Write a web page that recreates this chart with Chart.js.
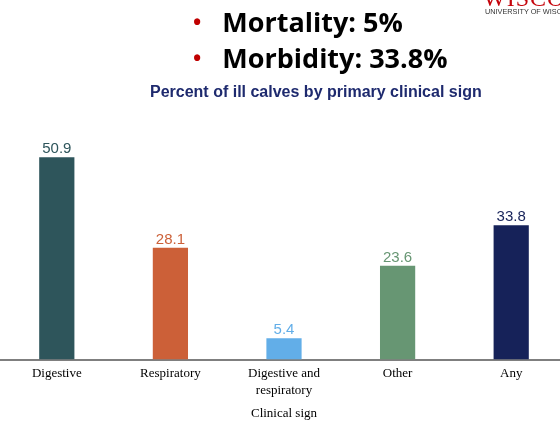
<!DOCTYPE html>
<html><head><meta charset="utf-8">
<script src="https://cdn.jsdelivr.net/npm/chart.js@4/dist/chart.umd.min.js"></script>
<style>
html,body{margin:0;padding:0;width:560px;height:421px;overflow:hidden;background:#fff;position:relative}
#wrap{position:absolute;left:0;top:0;width:568px;height:421px}
.t{position:absolute;white-space:nowrap}
</style></head><body>
<div id="wrap"><canvas id="c" width="568" height="421"></canvas></div>
<div class="t" style="left:483px;top:-15px;font:24px 'Liberation Serif',serif;color:#c5050c;letter-spacing:1px">WISCONSIN</div>
<div class="t" style="left:485px;top:7px;font:7.3px 'Liberation Sans',Arial,sans-serif;color:#333">UNIVERSITY OF WISCONSIN</div>
<div class="t" style="left:193px;top:3px;font:bold 27px 'Open Sans',sans-serif;color:#000"><span style="color:#c00000;font-size:22px;position:relative;top:-2px">•</span><span style="margin-left:21px">Mortality: 5%</span></div>
<div class="t" style="left:193px;top:39px;font:bold 27px 'Open Sans',sans-serif;color:#000"><span style="color:#c00000;font-size:22px;position:relative;top:-2px">•</span><span style="margin-left:21px">Morbidity: 33.8%</span></div>
<div class="t" style="left:150px;top:83px;font:bold 16px 'Liberation Sans',Arial,sans-serif;color:#1e2a6e">Percent of ill calves by primary clinical sign</div>
<script>
const categories = [["Digestive"], ["Respiratory"], ["Digestive and", "respiratory"], ["Other"], ["Any"]];
const values = [50.9, 28.1, 5.4, 23.6, 33.8];
const barColors = ["#2e555b", "#cc6038", "#62aee8", "#679673", "#162259"];
const axisTitle = "Clinical sign";

const valueLabels = {
  id: 'valueLabels',
  afterDatasetsDraw(chart) {
    const ctx = chart.ctx;
    const meta = chart.getDatasetMeta(0);
    ctx.save();
    ctx.font = "15px 'Liberation Sans', Arial, sans-serif";
    ctx.textAlign = 'center';
    ctx.textBaseline = 'bottom';
    meta.data.forEach((bar, i) => {
      ctx.fillStyle = barColors[i];
      ctx.fillText(values[i].toFixed(1), bar.x, bar.y - 0.5);
    });
    ctx.restore();
  }
};

new Chart(document.getElementById('c'), {
  type: 'bar',
  data: {
    labels: categories,
    datasets: [{
      data: values,
      backgroundColor: barColors,
      barPercentage: 0.31,
      categoryPercentage: 1.0,
      borderWidth: 0
    }]
  },
  options: {
    responsive: false,
    animation: false,
    layout: { padding: { left: 0, right: 0, top: 121, bottom: 0 } },
    plugins: { legend: { display: false }, tooltip: { enabled: false }, title: { display: false } },
    scales: {
      x: {
        grid: { display: false, drawTicks: false },
        border: { display: true, color: '#7f7f7f', width: 2 },
        ticks: { color: '#000', font: { family: "'Liberation Serif', 'Times New Roman', serif", size: 13, lineHeight: 1.3 }, padding: 6, maxRotation: 0, autoSkip: false },
        title: { display: true, text: axisTitle, color: '#000', font: { family: "'Liberation Serif', 'Times New Roman', serif", size: 13 }, padding: { top: 0, bottom: 0 } }
      },
      y: {
        display: false,
        min: 0, max: 60
      }
    }
  },
  plugins: [valueLabels]
});
</script>
</body></html>
